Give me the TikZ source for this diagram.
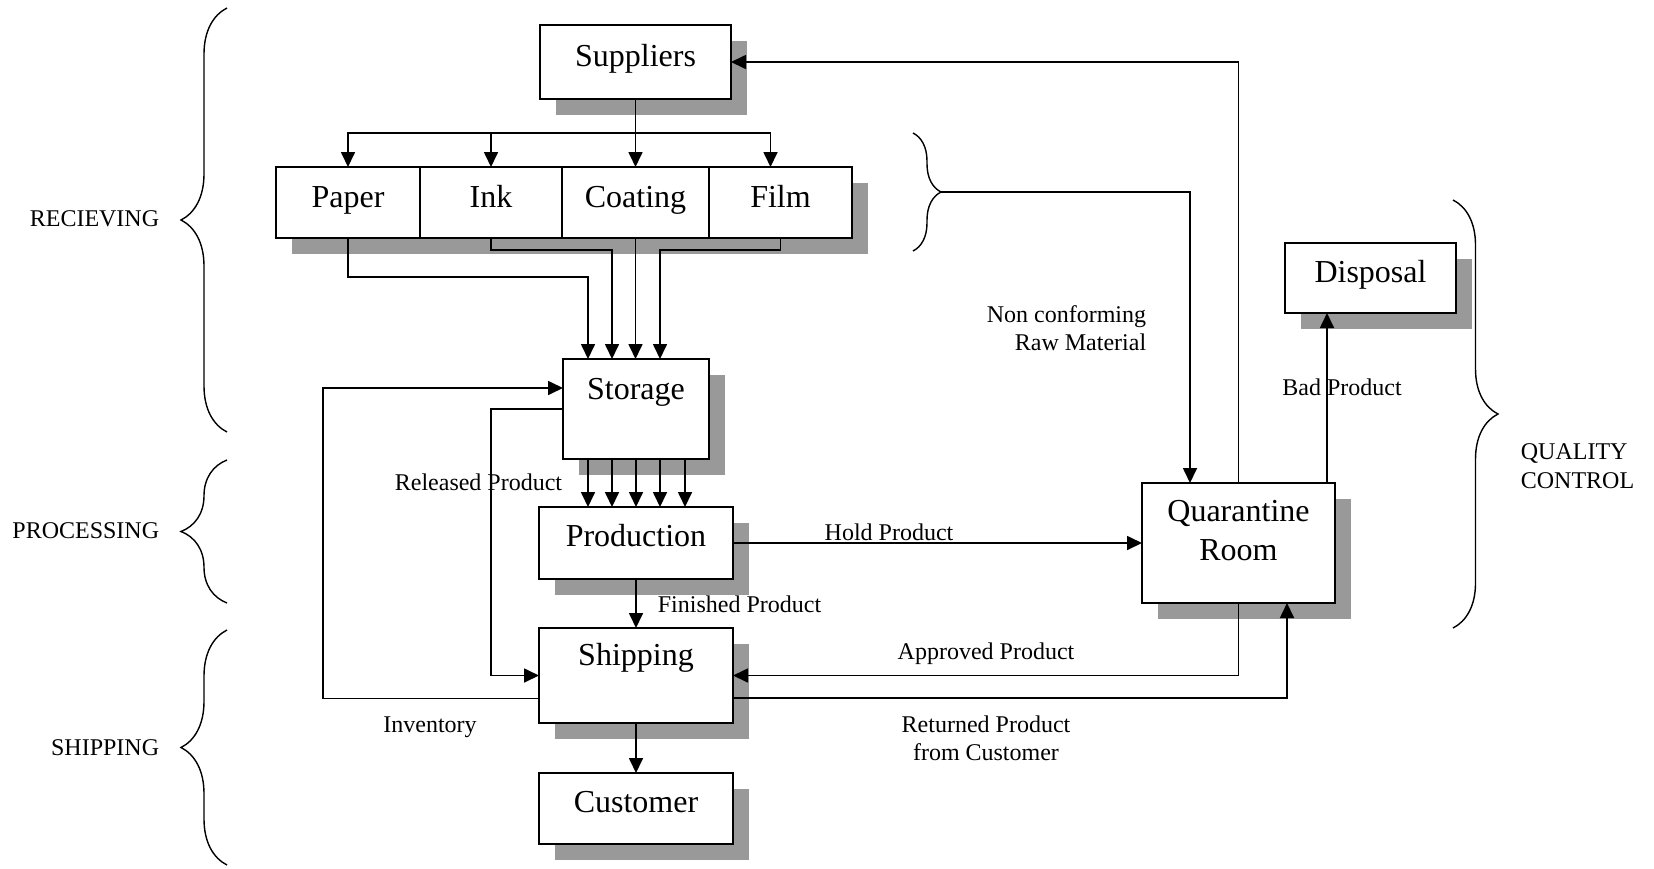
\documentclass[tikz,border=0pt]{standalone}
\usepackage{fontspec}
\setmainfont{Liberation Serif}
\usetikzlibrary{arrows.meta,shadows,decorations.pathreplacing,calc}
\begin{document}
\begin{tikzpicture}[x=0.5pt,y=-0.5pt,
  line width=0.85pt,
  box/.style={draw, fill=white, inner sep=0pt, outer sep=0pt,
    font=\fontsize{16}{19.5}\selectfont,
    drop shadow={shadow xshift=8pt,shadow yshift=-8pt,fill=black!40,opacity=1}},
  arr/.style={-{Triangle[length=7.5pt,width=7pt]}},
  lbl/.style={font=\fontsize{12}{14}\selectfont, inner sep=0pt},
  side/.style={font=\fontsize{12}{14.5}\selectfont, inner sep=0pt},
  brc/.style={decorate, decoration={brace, amplitude=#1}, line width=0.7pt}
]
\useasboundingbox (0,0) rectangle (1654,868);

% boxes
\node[box, minimum width=95.5pt, minimum height=37pt, text height=20.5pt, text depth=16.5pt] (sup) at (635.5,62) {Suppliers};
\node[box, minimum width=72pt, minimum height=35.5pt, text height=20pt, text depth=15.5pt] (paper) at (348,202.5) {Paper};
\node[box, minimum width=71pt, minimum height=35.5pt, text height=20pt, text depth=15.5pt] (ink) at (491,202.5) {Ink};
\node[box, minimum width=73.5pt, minimum height=35.5pt, text height=20pt, text depth=15.5pt] (coat) at (635.5,202.5) {Coating};
\node[box, minimum width=71.5pt, minimum height=35.5pt, text height=20pt, text depth=15.5pt] (film) at (780.5,202.5) {Film};
\node[box, minimum width=73pt, minimum height=50pt, text height=20pt, text depth=30pt] (stor) at (636,409) {Storage};
\node[box, minimum width=97pt, minimum height=36pt, text height=19.5pt, text depth=16.5pt] (prod) at (636,543) {Production};
\node[box, minimum width=97pt, minimum height=47.5pt, text height=18.5pt, text depth=29pt] (ship) at (636,675.5) {Shipping};
\node[box, minimum width=97pt, minimum height=35.5pt, text height=19.5pt, text depth=16pt] (cust) at (636,808.5) {Customer};
\node[box, minimum width=96.5pt, minimum height=60pt, align=center] (quar) at (1238.5,543) {Quarantine\\Room\rule[-13pt]{0pt}{13pt}};
\node[box, minimum width=85.5pt, minimum height=35pt, text height=19.5pt, text depth=15.5pt] (disp) at (1370.5,278) {Disposal};

% braces
\draw[brc=23pt] (227,432) -- (227,8);
\draw[brc=23pt] (227,603) -- (227,460);
\draw[brc=23pt] (227,865) -- (227,630);
\draw[brc=22.5pt] (1453,200) -- (1453,628);
\draw[brc=14pt] (913,133) -- (913,251);
\coordinate (nct) at (941,192);

% connectors
\draw[arr] (sup.south) -- (coat.north);
\draw[arr] (sup.south |- 0,133) -| (paper.north);
\draw[arr] (sup.south |- 0,133) -| ([xshift=-5pt]film.north);
\draw[arr] (ink.north |- 0,133) -- (ink.north);

\draw[arr] (paper.south) -- (paper.south |- 0,277) -| ([xshift=-24pt]stor.north);
\draw[arr] (ink.south) -- (ink.south |- 0,250) -| ([xshift=-12pt]stor.north);
\draw[arr] (coat.south) -- (coat.south |- stor.north);
\draw[arr] (film.south) -- (film.south |- 0,250) -| ([xshift=12pt]stor.north);

\foreach \d in {-24,-12,0,12,24.5}
  \draw[arr] ([xshift=\d pt]stor.south) -- ([xshift=\d pt]prod.north);

\draw[arr] (prod.south) -- (ship.north);
\draw[arr] (ship.south) -- (cust.north);
\draw[arr] (prod.east) -- (quar.west);
\draw[arr] (quar.north) |- (sup.east);
\draw[arr] (nct) -| ([xshift=-24.25pt]quar.north);
\draw[arr] ([xshift=44.25pt]quar.north) -- ([xshift=44.25pt]quar.north |- disp.south);
\draw[arr] (quar.south) |- (ship.east);
\draw[arr] ([yshift=-11.25pt]ship.east) -| ([xshift=24.25pt]quar.south);
\draw[arr] ([yshift=-11.5pt]ship.west) -- ++(-108pt,0) |- ([yshift=10.5pt]stor.west);
\draw[arr] (stor.west) -- ++(-36pt,0) |- (ship.west);

% labels
\node[lbl, anchor=base] (lhold) at (889,540) {Hold Product};
\node[lbl, anchor=base west] (lfin) at (657,612) {Finished Product};
\node[lbl, anchor=base west] (lrel) at (394,490) {Released Product};
\node[lbl, anchor=base] (linv) at (430,732) {Inventory};
\node[lbl, anchor=base] (lapp) at (986,659) {Approved Product};
\node[lbl, align=center] (lret) at (986,738) {Returned Product\\from Customer};
\node[lbl, align=right, anchor=east] (lnc) at (1147,328) {Non conforming\\Raw Material};
\node[lbl] (lbad) at (1342,387) {Bad Product};
\node[side, align=left, anchor=west] (lqc) at (1520,466) {QUALITY\\CONTROL};
\node[side, anchor=east] (lrec) at (160,219) {RECIEVING};
\node[side, anchor=east] (lpro) at (160,531) {PROCESSING};
\node[side, anchor=east] (lshp) at (160,748) {SHIPPING};
\end{tikzpicture}
\end{document}
